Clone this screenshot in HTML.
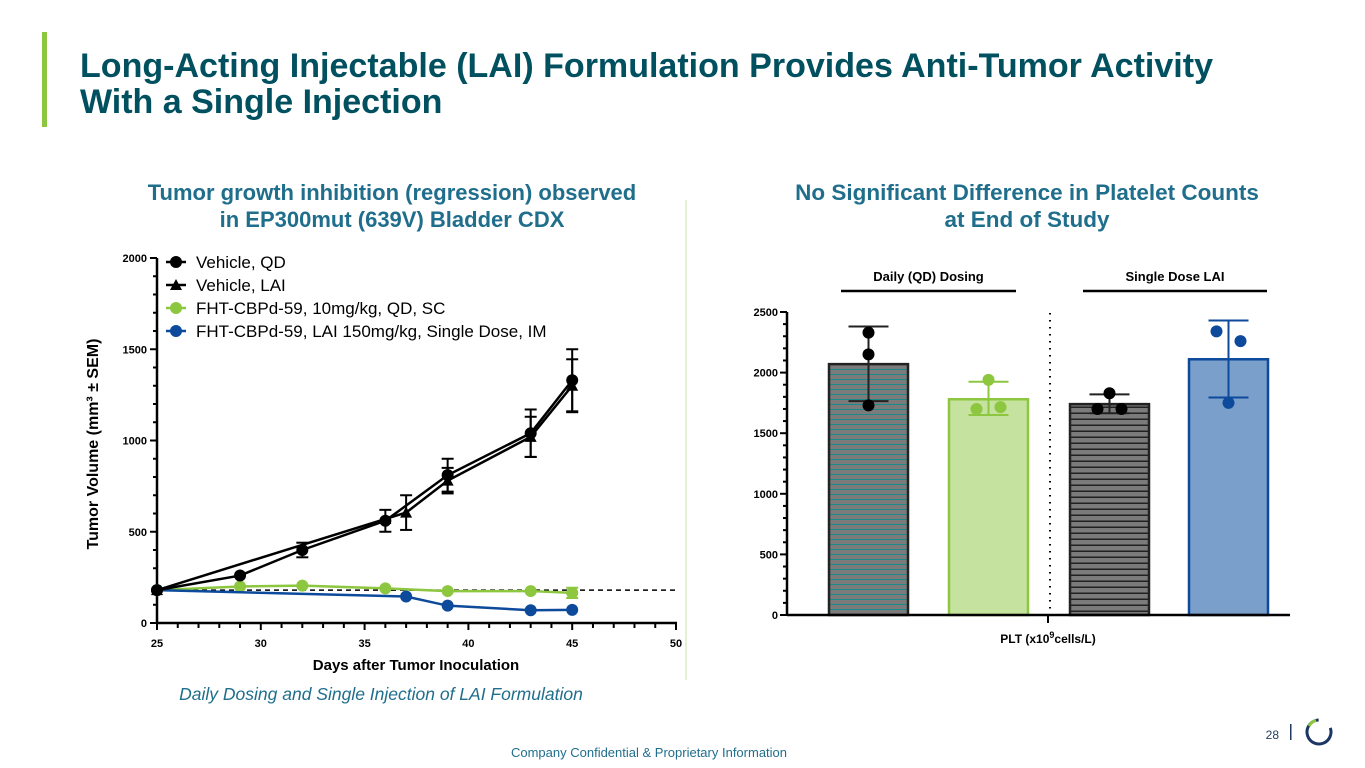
<!DOCTYPE html>
<html><head><meta charset="utf-8"><style>
body{margin:0;background:#fff;}
svg{display:block;font-family:"Liberation Sans",Arial,sans-serif;}
</style></head><body>
<svg id="s" width="1365" height="768" viewBox="0 0 1365 768">
<rect x="42" y="32" width="5" height="95" fill="#8dc63f"/>
<text x="80" y="77" font-size="34" font-weight="bold" fill="#00505f" textLength="1133" lengthAdjust="spacingAndGlyphs">Long-Acting Injectable (LAI) Formulation Provides Anti-Tumor Activity</text>
<text x="80" y="113" font-size="34" font-weight="bold" fill="#00505f">With a Single Injection</text>
<text x="392" y="200" font-size="22" font-weight="bold" fill="#1f6e8c" text-anchor="middle">Tumor growth inhibition (regression) observed</text>
<text x="392" y="227" font-size="22" font-weight="bold" fill="#1f6e8c" text-anchor="middle">in EP300mut (639V) Bladder CDX</text>
<text x="1027" y="200" font-size="22.5" font-weight="bold" fill="#1f6e8c" text-anchor="middle">No Significant Difference in Platelet Counts</text>
<text x="1027" y="227" font-size="22.5" font-weight="bold" fill="#1f6e8c" text-anchor="middle">at End of Study</text>
<rect x="685" y="200" width="2" height="480" fill="#e4f1d4"/>
<text x="381" y="700" font-size="17.5" font-style="italic" fill="#1f6e8c" text-anchor="middle">Daily Dosing and Single Injection of LAI Formulation</text>
<text x="649" y="757" font-size="13" fill="#1f6e8c" text-anchor="middle">Company Confidential &amp; Proprietary Information</text>
<text x="1279" y="739" font-size="12" fill="#1f3a5f" text-anchor="end">28</text>
<rect x="1290" y="724" width="1.5" height="16" fill="#1f3a5f"/>
<g>
<circle cx="1319" cy="732" r="12" fill="none" stroke="#1b3565" stroke-width="3" stroke-dasharray="60 16" transform="rotate(-20 1319 732)"/>
<path d="M1309 726 A12 12 0 0 1 1316 720.3" fill="none" stroke="#8dc63f" stroke-width="3"/>
</g>
<g id="lc"></g>
<g id="rc"></g>
</svg>
<script>
const days=[25,29,32,36,39,43,45];
const vehQD=[180,260,400,560,810,1040,1330];
const vehQDerr=[0,0,40,60,90,130,170];
const vehLAIdays=[25,36,37,39,43,45];
const vehLAI=[180,570,605,780,1020,1300];
const vehLAIerr=[0,0,95,70,110,145];
const greenDays=[25,29,32,36,39,43,45];
const green=[180,200,205,190,175,175,165];
const greenErr=[0,0,0,0,0,0,28];
const blueDays=[25,37,39,43,45];
const blue=[180,145,95,70,72];
const baseline=180;
const yTicks=[0,500,1000,1500,2000];
const xTicks=[25,30,35,40,45,50];
const legendLabels=["Vehicle, QD","Vehicle, LAI","FHT-CBPd-59, 10mg/kg, QD, SC","FHT-CBPd-59, LAI 150mg/kg, Single Dose, IM"];

const barGroups=["Vehicle QD","FHT-CBPd-59 QD","Vehicle LAI","FHT-CBPd-59 LAI"];
const barMeans=[2070,1780,1740,2110];
const barLo=[1765,1650,1665,1795];
const barHi=[2380,1925,1820,2430];
const barPoints=[[2330,2150,1730],[1940,1700,1715],[1830,1700,1700],[2340,2260,1750]];
const rTicks=[0,500,1000,1500,2000,2500];

const NS="http://www.w3.org/2000/svg";
function mk(p,t,a){const e=document.createElementNS(NS,t);for(const k in a)e.setAttribute(k,a[k]);p.appendChild(e);return e;}
const lc=document.getElementById('lc');
const X=d=>157+(d-25)*(676-157)/25;
const Y=v=>623-v*(623-258)/2000;
let e;
e=mk(lc,'line',{x1:157,y1:Y(2000),x2:157,y2:623,stroke:'#000','stroke-width':2.5});


e=mk(lc,'line',{x1:157,y1:623,x2:677,y2:623,stroke:'#000','stroke-width':2.5});


for(let v=0;v<=2000;v+=100){const big=v%500===0;mk(lc,'line',{x1:big?150:153,y1:Y(v),x2:157,y2:Y(v),stroke:'#000','stroke-width':2});}
yTicks.forEach(v=>{e=mk(lc,'text',{x:147,y:Y(v)+4,'font-size':11,'font-weight':'bold','text-anchor':'end'});e.textContent=v;

});
for(let d=25;d<=50;d++){const big=d%5===0;mk(lc,'line',{x1:X(d),y1:623,x2:X(d),y2:big?630:628,stroke:'#000','stroke-width':2});}
xTicks.forEach(d=>{e=mk(lc,'text',{x:X(d),y:647,'font-size':11,'font-weight':'bold','text-anchor':'middle'});e.textContent=d;

});
e=mk(lc,'text',{x:416,y:670,'font-size':15,'font-weight':'bold','text-anchor':'middle'});e.textContent='Days after Tumor Inoculation';


e=mk(lc,'text',{x:0,y:0,'font-size':16,'font-weight':'bold','text-anchor':'middle',transform:'translate(98,444) rotate(-90)'});e.textContent='Tumor Volume (mm³ ± SEM)';


e=mk(lc,'line',{x1:157,y1:Y(baseline),x2:676,y2:Y(baseline),stroke:'#000','stroke-width':1.5,'stroke-dasharray':'5 4'});


function series(xs,ys,errs,color,marker,name){
  const g=mk(lc,'g',{});
  
  
  mk(g,'polyline',{points:xs.map((d,i)=>X(d)+','+Y(ys[i])).join(' '),fill:'none',stroke:color,'stroke-width':2.5});
  xs.forEach((d,i)=>{
    if(errs[i]>0){const x=X(d);mk(g,'line',{x1:x,y1:Y(ys[i]-errs[i]),x2:x,y2:Y(ys[i]+errs[i]),stroke:color,'stroke-width':2});
      [ys[i]-errs[i],ys[i]+errs[i]].forEach(v=>mk(g,'line',{x1:x-6,y1:Y(v),x2:x+6,y2:Y(v),stroke:color,'stroke-width':2}));}
    if(marker==='tri'){const x=X(d),y=Y(ys[i]);mk(g,'polygon',{points:`${x-6},${y+5} ${x+6},${y+5} ${x},${y-6}`,fill:color});}
    else mk(g,'circle',{cx:X(d),cy:Y(ys[i]),r:6,fill:color});
  });
}
series(greenDays,green,greenErr,'#8dc63f','c','series-fht-qd');
series(blueDays,blue,blueDays.map(()=>0),'#0d4a9b','c','series-fht-lai');
series(vehLAIdays,vehLAI,vehLAIerr,'#000','tri','series-vehicle-lai');
series(days,vehQD,vehQDerr,'#000','c','series-vehicle-qd');
const lcol=['#000','#000','#8dc63f','#0d4a9b'];
legendLabels.forEach((t,i)=>{const y=262+i*23;const g=mk(lc,'g',{});


mk(g,'line',{x1:166,y1:y,x2:186,y2:y,stroke:lcol[i],'stroke-width':2.5});
if(i===1)mk(g,'polygon',{points:`170,${y+5} 182,${y+5} 176,${y-6}`,fill:lcol[i]});else mk(g,'circle',{cx:176,cy:y,r:6,fill:lcol[i]});
const tx=mk(g,'text',{x:196,y:y+6,'font-size':17});tx.textContent=t;});

const rc=document.getElementById('rc');
const defs=mk(rc,'defs',{});
const p1=mk(defs,'pattern',{id:'h1',width:8,height:5,patternUnits:'userSpaceOnUse'});mk(p1,'rect',{width:8,height:5,fill:'#7b7b7b'});mk(p1,'rect',{y:4,width:8,height:1,fill:'#1a8a8a'});
const p2=mk(defs,'pattern',{id:'h2',width:8,height:6,patternUnits:'userSpaceOnUse'});mk(p2,'rect',{width:8,height:6,fill:'#7b7b7b'});mk(p2,'rect',{y:4.5,width:8,height:1.5,fill:'#222'});
const RY=v=>615-v*(615-312)/2500;
const barX=[829,949,1070,1189], bw=79;
const fills=['url(#h1)','#c5e29e','url(#h2)','#7b9fcb'], strokes=['#222','#8dc63f','#222','#0d4a9b'], dots=['#000','#8dc63f','#000','#0d4a9b'];
barMeans.forEach((m,i)=>{const g=mk(rc,'g',{});


mk(g,'rect',{x:barX[i],y:RY(m),width:bw,height:615-RY(m),fill:fills[i],stroke:strokes[i],'stroke-width':2.5});
const cx=barX[i]+bw/2;
mk(g,'line',{x1:cx,y1:RY(barLo[i]),x2:cx,y2:RY(barHi[i]),stroke:strokes[i],'stroke-width':2});
[barLo[i],barHi[i]].forEach(v=>mk(g,'line',{x1:cx-20,y1:RY(v),x2:cx+20,y2:RY(v),stroke:strokes[i],'stroke-width':2}));
const offs=[[0,0,0],[0,-12,12],[0,-12,12],[-12,12,0]];
barPoints[i].forEach((v,j)=>mk(g,'circle',{cx:cx+offs[i][j],cy:RY(v),r:6,fill:dots[i]}));
});
e=mk(rc,'line',{x1:787,y1:RY(2500),x2:787,y2:616,stroke:'#000','stroke-width':2.5});


e=mk(rc,'line',{x1:787,y1:615,x2:1290,y2:615,stroke:'#000','stroke-width':2.5});


mk(rc,'line',{x1:1048,y1:615,x2:1048,y2:623,stroke:'#000','stroke-width':2});
for(let v=0;v<=2500;v+=100){const big=v%500===0;mk(rc,'line',{x1:big?780:783,y1:RY(v),x2:787,y2:RY(v),stroke:'#000','stroke-width':2});}
rTicks.forEach(v=>{e=mk(rc,'text',{x:778,y:RY(v)+4,'font-size':11,'font-weight':'bold','text-anchor':'end'});e.textContent=v;

});
e=mk(rc,'line',{x1:1050,y1:313,x2:1050,y2:612,stroke:'#000','stroke-width':2,'stroke-dasharray':'1.5 5.5'});


e=mk(rc,'text',{x:1048,y:643,'font-size':12,'font-weight':'bold','text-anchor':'middle'});e.innerHTML='PLT (x10<tspan dy="-5" font-size="9">9</tspan><tspan dy="5">cells/L)</tspan>';


[['Daily (QD) Dosing',841,1016],['Single Dose LAI',1083,1267]].forEach(a=>{const g=mk(rc,'g',{});


mk(g,'line',{x1:a[1],y1:291,x2:a[2],y2:291,stroke:'#000','stroke-width':2.5});
const t=mk(g,'text',{x:(a[1]+a[2])/2,y:281,'font-size':13,'font-weight':'bold','text-anchor':'middle'});t.textContent=a[0];});
</script>
</body></html>
